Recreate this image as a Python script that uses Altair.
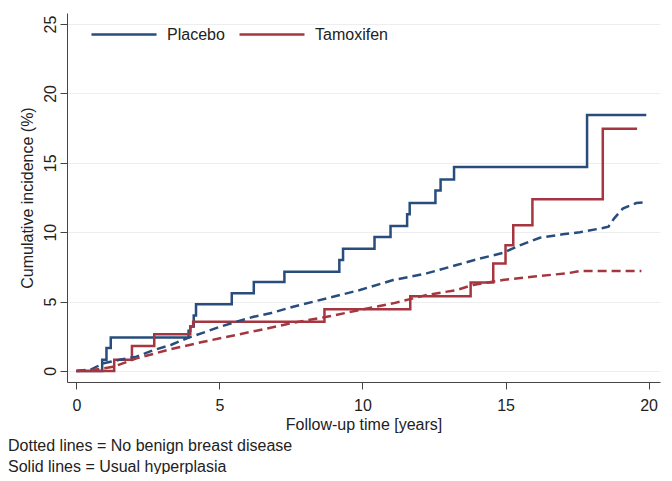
import altair as alt
import pandas as pd

# Usual hyperplasia (solid, step functions)
placebo_uh_t = [0, 0.9, 1.05, 1.2, 3.92, 3.98, 4.1, 4.18, 5.43, 6.2, 7.27, 9.19, 9.32, 10.42, 10.98, 11.56, 11.65, 12.55, 12.73, 13.2, 17.85, 19.92]
placebo_uh_v = [0, 0.8, 1.65, 2.4, 2.9, 3.2, 4.0, 4.8, 5.6, 6.4, 7.15, 8.0, 8.8, 9.65, 10.45, 11.3, 12.1, 13.0, 13.8, 14.7, 18.45, 18.45]
tamox_uh_t = [0, 1.32, 1.94, 2.72, 3.98, 4.08, 8.67, 11.67, 13.78, 14.57, 15.0, 15.27, 15.94, 18.4, 19.6]
tamox_uh_v = [0, 0.8, 1.8, 2.65, 3.2, 3.55, 4.45, 5.38, 6.38, 7.75, 9.06, 10.5, 12.37, 17.46, 17.46]

# No benign breast disease (dashed)
placebo_nb_t = [0, 0.5, 0.95, 1.5, 2.1, 2.7, 3.3, 3.86, 4.44, 5.03, 5.6, 6.19, 6.77, 7.58, 8.75, 9.91, 11.07, 12.24, 13.29, 14.1, 14.9, 15.5, 16.2, 17.0, 17.6, 18.4, 18.6, 18.8, 19.1, 19.57, 19.9]
placebo_nb_v = [0, 0.1, 0.55, 0.8, 1.03, 1.5, 1.87, 2.35, 2.76, 3.19, 3.55, 3.9, 4.15, 4.63, 5.23, 5.83, 6.55, 7.03, 7.63, 8.1, 8.5, 9.05, 9.6, 9.85, 10.0, 10.3, 10.4, 11.0, 11.7, 12.1, 12.15]
tamox_nb_t = [0, 0.5, 1.3, 2.1, 3.28, 4.44, 5.6, 6.42, 7.58, 8.75, 9.91, 11.07, 12.24, 13.29, 13.87, 14.9, 16.0, 17.2, 17.6, 19.75]
tamox_nb_v = [0, 0.05, 0.3, 0.9, 1.56, 2.1, 2.6, 2.95, 3.47, 3.9, 4.39, 4.87, 5.47, 5.83, 6.2, 6.55, 6.8, 7.05, 7.2, 7.2]

notes = ["Dotted lines = No benign breast disease", "Solid lines = Usual hyperplasia"]

def frame(t, v, arm, grp):
    return pd.DataFrame({"t": t, "v": v, "arm": arm, "grp": grp, "key": arm + " " + grp})

solid = pd.concat([frame(placebo_uh_t, placebo_uh_v, "Placebo", "UH"),
                   frame(tamox_uh_t, tamox_uh_v, "Tamoxifen", "UH")])
dashed = pd.concat([frame(placebo_nb_t, placebo_nb_v, "Placebo", "NBBD"),
                    frame(tamox_nb_t, tamox_nb_v, "Tamoxifen", "NBBD")])

FONT = "Liberation Sans"
FS = 16
BLUE = "#284D7C"
RED = "#A5363F"

color = alt.Color("arm:N", scale=alt.Scale(domain=["Placebo", "Tamoxifen"], range=[BLUE, RED]),
                  legend=alt.Legend(title=None, orient="none", legendX=23, legendY=-12.5,
                                    direction="horizontal", symbolType="stroke", symbolSize=4225,
                                    symbolStrokeWidth=2.5, labelFontSize=FS, labelFont=FONT,
                                    labelColor="#222", labelOffset=9, columnPadding=9, padding=0))

xenc = alt.X("t:Q", scale=alt.Scale(domain=[-0.33, 20.4], nice=False, zero=False),
             axis=alt.Axis(values=[0, 5, 10, 15, 20], title="Follow-up time [years]", grid=False,
                           tickSize=7, labelPadding=8, titlePadding=3, labelFontSize=FS,
                           titleFontSize=FS, titleFontWeight="normal", labelFont=FONT, titleFont=FONT,
                           domainColor="#444", tickColor="#444", labelColor="#222", titleColor="#222"))
yenc = alt.Y("v:Q", scale=alt.Scale(domain=[-0.8, 25.8], nice=False, zero=False),
             axis=alt.Axis(values=[0, 5, 10, 15, 20, 25], title="Cumulative incidence (%)", grid=True,
                           gridColor="#eeeeee", tickSize=7, labelAngle=270, labelAlign="center",
                           labelBaseline="bottom", labelPadding=2, titlePadding=7, labelFontSize=FS,
                           titleFontSize=FS, titleFontWeight="normal", labelFont=FONT, titleFont=FONT,
                           domainColor="#444", tickColor="#444", labelColor="#222", titleColor="#222"))

solid_lines = alt.Chart(solid).mark_line(interpolate="step-after", strokeWidth=2.5).encode(
    x=xenc, y=yenc, color=color, detail="key:N")
dashed_lines = alt.Chart(dashed).mark_line(strokeWidth=2.5, strokeDash=[9, 5]).encode(
    x="t:Q", y="v:Q", color=alt.Color("arm:N"), detail="key:N")

note1 = alt.Chart(pd.DataFrame({"txt": [notes[0]]})).mark_text(
    align="left", baseline="middle", fontSize=FS, font=FONT, color="#222").encode(
    text="txt:N", x=alt.value(-59), y=alt.value(433))
note2 = alt.Chart(pd.DataFrame({"txt": [notes[1]]})).mark_text(
    align="left", baseline="middle", fontSize=FS, font=FONT, color="#222").encode(
    text="txt:N", x=alt.value(-59), y=alt.value(454))

chart = alt.layer(solid_lines, dashed_lines, note1, note2).properties(
    width=593, height=369,
    autosize=alt.AutoSizeParams(type="none"),
    padding={"left": 59, "top": 5, "right": 4, "bottom": 92},
).configure_view(stroke=None)

chart.save("out.html", embed_options={"renderer": "svg", "actions": False})
